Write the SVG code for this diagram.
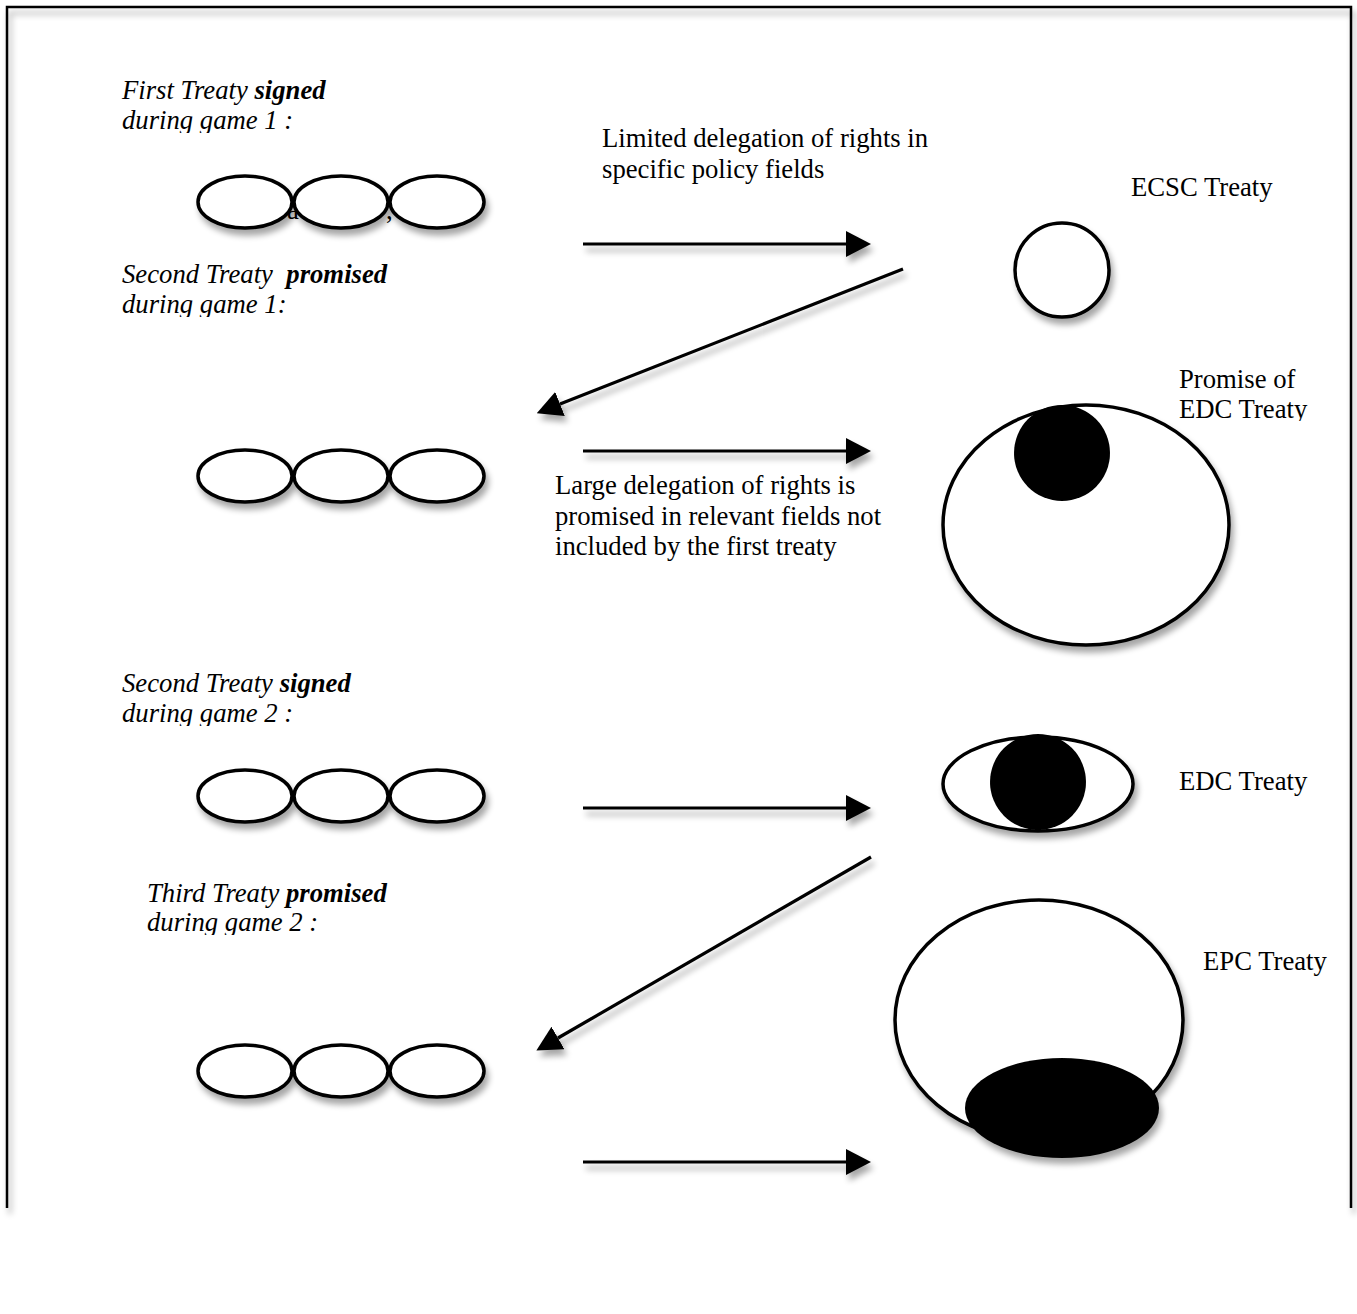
<svg xmlns="http://www.w3.org/2000/svg" width="1357" height="1314" viewBox="0 0 1357 1314">
  <defs>
    <style>
      .t { font-family: "Liberation Serif", "Times New Roman", serif; font-size: 26.7px; fill: #000; }
      .i { font-style: italic; }
      .b { font-weight: bold; }
      .ring { fill: #fff; stroke: #000; stroke-width: 3.5; }
      .solid { fill: #000; stroke: none; }
      .wire { fill: none; stroke: #000; stroke-width: 3.2; }
    </style>
    <filter id="shadow" x="-20%" y="-20%" width="140%" height="150%">
      <feGaussianBlur in="SourceAlpha" stdDeviation="3"/>
      <feOffset dx="3" dy="6" result="off"/>
      <feComponentTransfer><feFuncA type="linear" slope="0.35"/></feComponentTransfer>
      <feMerge><feMergeNode/><feMergeNode in="SourceGraphic"/></feMerge>
    </filter>
    <marker id="head" markerUnits="userSpaceOnUse" markerWidth="25" markerHeight="26" refX="0" refY="13" orient="auto">
      <path d="M0,0 L25,13 L0,26 Z" fill="#000"/>
    </marker>
    <clipPath id="c1"><rect x="100" y="100" width="300" height="33"/></clipPath>
    <clipPath id="c2"><rect x="100" y="285" width="300" height="32"/></clipPath>
    <clipPath id="c3"><rect x="1150" y="390" width="200" height="31"/></clipPath>
    <clipPath id="c4"><rect x="100" y="694" width="300" height="32"/></clipPath>
    <clipPath id="c5"><rect x="120" y="904" width="300" height="31"/></clipPath>
  </defs>

  <!-- open frame: left, top and right edges -->
  <path d="M7,1208 V7 H1351 V1208" fill="none" stroke="#000" stroke-width="2.5" filter="url(#shadow)"/>

  <!-- stray characters partly covered by the first row of ellipses -->
  <text class="t" x="287" y="219">a</text>
  <text class="t" x="386" y="219">,</text>

  <!-- member-state rows -->
  <g id="row1" filter="url(#shadow)">
    <ellipse class="ring" cx="245" cy="202" rx="47" ry="26"/>
    <ellipse class="ring" cx="341" cy="202" rx="47" ry="26"/>
    <ellipse class="ring" cx="437" cy="202" rx="47" ry="26"/>
  </g>
  <g id="row2" filter="url(#shadow)">
    <ellipse class="ring" cx="245" cy="476" rx="47" ry="26"/>
    <ellipse class="ring" cx="341" cy="476" rx="47" ry="26"/>
    <ellipse class="ring" cx="437" cy="476" rx="47" ry="26"/>
  </g>
  <g id="row3" filter="url(#shadow)">
    <ellipse class="ring" cx="245" cy="796" rx="47" ry="26"/>
    <ellipse class="ring" cx="341" cy="796" rx="47" ry="26"/>
    <ellipse class="ring" cx="437" cy="796" rx="47" ry="26"/>
  </g>
  <g id="row4" filter="url(#shadow)">
    <ellipse class="ring" cx="245" cy="1071" rx="47" ry="26"/>
    <ellipse class="ring" cx="341" cy="1071" rx="47" ry="26"/>
    <ellipse class="ring" cx="437" cy="1071" rx="47" ry="26"/>
  </g>

  <!-- treaty shapes -->
  <g id="ecsc" filter="url(#shadow)">
    <circle class="ring" cx="1062" cy="270" r="47"/>
  </g>
  <g id="edc-promise" filter="url(#shadow)">
    <ellipse class="ring" cx="1086" cy="525" rx="143" ry="120"/>
    <circle class="solid" cx="1062" cy="453" r="48"/>
  </g>
  <g id="edc" filter="url(#shadow)">
    <ellipse class="ring" cx="1038" cy="784" rx="95" ry="47"/>
    <circle class="solid" cx="1038" cy="782" r="48"/>
  </g>
  <g id="epc" filter="url(#shadow)">
    <ellipse class="ring" cx="1039" cy="1020" rx="144" ry="120"/>
    <ellipse class="solid" cx="1062" cy="1108" rx="97" ry="50"/>
  </g>

  <!-- connectors -->
  <g id="connectors" filter="url(#shadow)">
    <path class="wire" d="M583,244 H846" marker-end="url(#head)"/>
    <path class="wire" d="M903,269 L560,404" marker-end="url(#head)"/>
    <path class="wire" d="M583,451 H846" marker-end="url(#head)"/>
    <path class="wire" d="M583,808 H846" marker-end="url(#head)"/>
    <path class="wire" d="M871,857 L558,1038" marker-end="url(#head)"/>
    <path class="wire" d="M583,1162 H846" marker-end="url(#head)"/>
  </g>

  <!-- labels -->
  <g id="label-game1-signed">
    <text class="t i" x="122" y="99">First Treaty <tspan class="b">signed</tspan></text>
    <text class="t i" x="122" y="129" clip-path="url(#c1)">during game 1 :</text>
  </g>
  <g id="label-limited">
    <text class="t" x="602" y="147">Limited delegation of rights in</text>
    <text class="t" x="602" y="178">specific policy fields</text>
  </g>
  <text id="label-ecsc" class="t" x="1131" y="196">ECSC Treaty</text>
  <g id="label-game1-promised">
    <text class="t i" x="122" y="283" xml:space="preserve">Second Treaty  <tspan class="b">promised</tspan></text>
    <text class="t i" x="122" y="313" clip-path="url(#c2)">during game 1:</text>
  </g>
  <g id="label-edc-promise">
    <text class="t" x="1179" y="388">Promise of</text>
    <text class="t" x="1179" y="418" clip-path="url(#c3)">EDC Treaty</text>
  </g>
  <g id="label-large">
    <text class="t" x="555" y="494">Large delegation of rights is</text>
    <text class="t" x="555" y="525">promised in relevant fields not</text>
    <text class="t" x="555" y="555">included by the first treaty</text>
  </g>
  <g id="label-game2-signed">
    <text class="t i" x="122" y="692">Second Treaty <tspan class="b">signed</tspan></text>
    <text class="t i" x="122" y="722" clip-path="url(#c4)">during game 2 :</text>
  </g>
  <text id="label-edc" class="t" x="1179" y="790">EDC Treaty</text>
  <g id="label-game2-promised">
    <text class="t i" x="147" y="902">Third Treaty <tspan class="b">promised</tspan></text>
    <text class="t i" x="147" y="931" clip-path="url(#c5)">during game 2 :</text>
  </g>
  <text id="label-epc" class="t" x="1203" y="970">EPC Treaty</text>
</svg>
